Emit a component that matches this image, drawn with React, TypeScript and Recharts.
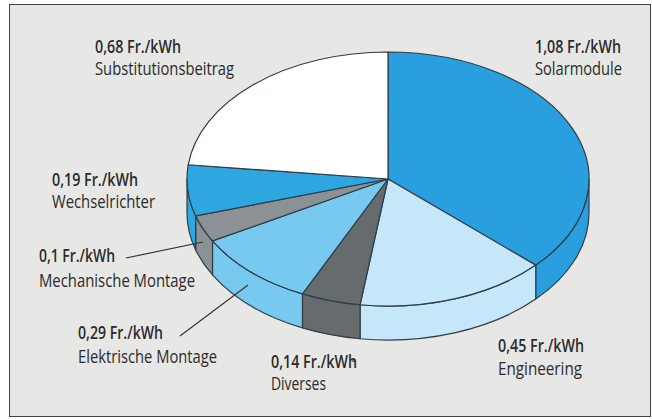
import React from 'react';
import { PieChart, Pie, Cell } from 'recharts';

const categories = ['Solarmodule', 'Engineering', 'Diverses', 'Elektrische Montage', 'Mechanische Montage', 'Wechselrichter', 'Substitutionsbeitrag'];
const values = [1.08, 0.45, 0.14, 0.29, 0.1, 0.19, 0.68];
const colors = ['#2a9fe0', '#c6e7f9', '#666b6e', '#78c9ef', '#8b9195', '#2ea6e0', '#ffffff'];
const unit = 'Fr./kWh';

const rows = categories.map((name, i) => ({ name, value: values[i] }));

const CX = 388;
const CY = 179;
const RX = 201;
const SQUASH = 127 / 201;
const DEPTH = 34;
const EDGE = '#2e3d47';
const TEXT = '#2b2b2b';

type Place = { x: number; y1: number; y2: number; w1: number; w2: number; leader?: number[] };
const placement: Place[] = [
  { x: 535, y1: 53, y2: 75, w1: 86, w2: 87 },
  { x: 498, y1: 352, y2: 375, w1: 86, w2: 84 },
  { x: 271, y1: 368, y2: 390, w1: 86, w2: 55, leader: [352, 361, 356, 361] },
  { x: 78, y1: 339, y2: 363, w1: 85, w2: 139, leader: [180, 336, 248, 285] },
  { x: 39, y1: 262, y2: 287, w1: 76, w2: 156, leader: [126, 258, 203, 242] },
  { x: 52, y1: 186, y2: 208, w1: 86, w2: 103 },
  { x: 95, y1: 53, y2: 75, w1: 86, w2: 139 },
];

const pt = (a: number, dy = 0) => {
  const r = (a * Math.PI) / 180;
  return [+(CX + RX * Math.cos(r)).toFixed(2), +(CY - RX * SQUASH * Math.sin(r) + dy).toFixed(2)];
};

const Slice = (props: any) => {
  const { startAngle, endAngle, fill } = props;
  const [sx, sy] = pt(startAngle);
  const [ex, ey] = pt(endAngle);
  const ry = RX * SQUASH;
  const large = Math.abs(startAngle - endAngle) > 180 ? 1 : 0;
  const top = `M${CX},${CY} L${sx},${sy} A${RX},${ry} 0 ${large} 1 ${ex},${ey} Z`;
  // visible outer wall: the part of the arc on the front (lower) half of the ellipse
  const wStart = Math.min(startAngle, 0);
  const wEnd = Math.max(endAngle, -180);
  let wall = null;
  if (wStart > wEnd) {
    const [ax, ay] = pt(wStart);
    const [bx, by] = pt(wEnd);
    const d = `M${ax},${ay} A${RX},${ry} 0 0 1 ${bx},${by} L${bx},${by + DEPTH} A${RX},${ry} 0 0 0 ${ax},${ay + DEPTH} Z`;
    wall = <path d={d} fill={fill} stroke={EDGE} strokeWidth={1.2} strokeLinejoin="round" />;
  }
  return (
    <g>
      {wall}
      <path d={top} fill={fill} stroke={EDGE} strokeWidth={1.2} strokeLinejoin="round" />
    </g>
  );
};

const renderLabel = (props: any) => {
  const i = props.index;
  const p = placement[i];
  const head = `${String(values[i]).replace('.', ',')} ${unit}`;
  const font = '"Open Sans", sans-serif';
  return (
    <g key={i}>
      {p.leader && (
        <line x1={p.leader[0]} y1={p.leader[1]} x2={p.leader[2]} y2={p.leader[3]} stroke="#333" strokeWidth={1.2} />
      )}
      <text x={p.x} y={p.y1} fontFamily={font} fontSize={18} fontWeight={600} fill={TEXT} textLength={p.w1} lengthAdjust="spacingAndGlyphs">
        {head}
      </text>
      <text x={p.x} y={p.y2} fontFamily={font} fontSize={18} fill={TEXT} textLength={p.w2} lengthAdjust="spacingAndGlyphs">
        {categories[i]}
      </text>
    </g>
  );
};

export default function App() {
  return (
    <div style={{ position: 'absolute', left: 0, top: 0, width: 652, height: 419, background: '#fff', overflow: 'hidden' }}>
      <div
        style={{
          position: 'absolute',
          left: 9,
          top: 4,
          width: 640,
          height: 411,
          background: '#e7e7e5',
          border: '1.5px solid #444',
        }}
      />
      <div style={{ position: 'absolute', left: 0, top: 0 }}>
        <PieChart width={652} height={419} margin={{ top: 0, right: 0, bottom: 0, left: 0 }}>
          <Pie
            data={rows}
            dataKey="value"
            nameKey="name"
            cx={CX}
            cy={CY}
            innerRadius={0}
            outerRadius={RX}
            startAngle={90}
            endAngle={-270}
            isAnimationActive={false}
            shape={Slice}
            label={renderLabel}
            labelLine={false}
          >
            {rows.map((r, i) => (
              <Cell key={r.name} fill={colors[i]} />
            ))}
          </Pie>
        </PieChart>
      </div>
    </div>
  );
}
